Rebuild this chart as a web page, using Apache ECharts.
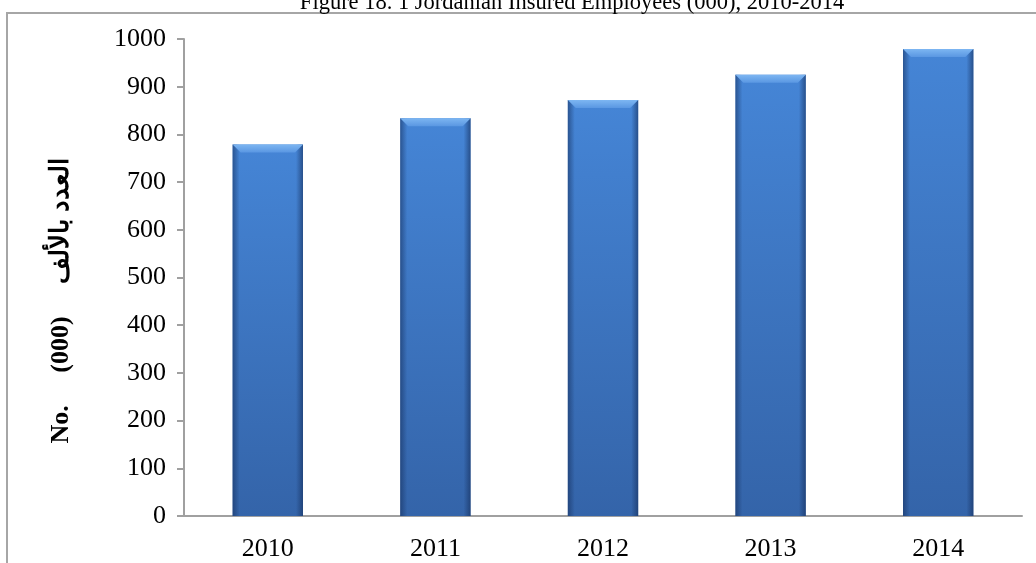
<!DOCTYPE html>
<html>
<head>
<meta charset="utf-8">
<script src="https://cdn.jsdelivr.net/npm/echarts@6/dist/echarts.min.js"></script>
<style>html,body{margin:0;padding:0;background:#fff}#c{width:1036px;height:563px}</style>
</head>
<body>
<div id="c"></div>
<script>
const categories = ['2010', '2011', '2012', '2013', '2014'];
const values = [779, 834, 872, 925, 979];
const yTicks = { min: 0, max: 1000, interval: 100 };
const titleText = 'Figure 18. 1 Jordanian Insured Employees (000), 2010-2014';
const yName = 'No.     (000)     العدد بالألف';

const chart = echarts.init(document.getElementById('c'), null, { renderer: 'canvas' });
const serif = '"Liberation Serif", "DejaVu Serif", serif';

function renderBar(params, api) {
  const idx = api.value(0);
  const v = api.value(1);
  const top = api.coord([idx, v]);
  const base = api.coord([idx, 0]);
  const band = api.size([1, 0])[0];
  const w = band * 0.42;
  const x = top[0] - w / 2;
  const y = top[1];
  const h = base[1] - top[1];
  const bev = 8;
  const edge = 7;
  return {
    type: 'group',
    children: [
      { type: 'rect', shape: { x: x, y: y, width: w, height: h },
        style: { fill: new echarts.graphic.LinearGradient(0, 0, 0, 1, [
          { offset: 0, color: '#4585d6' }, { offset: 1, color: '#3464a9' }]) } },
      { type: 'rect', shape: { x: x, y: y, width: edge, height: h },
        style: { fill: new echarts.graphic.LinearGradient(0, 0, 1, 0, [
          { offset: 0, color: 'rgba(20,45,90,0.55)' }, { offset: 1, color: 'rgba(20,45,90,0)' }]) } },
      { type: 'rect', shape: { x: x + w - edge, y: y, width: edge, height: h },
        style: { fill: new echarts.graphic.LinearGradient(0, 0, 1, 0, [
          { offset: 0, color: 'rgba(20,45,90,0)' }, { offset: 1, color: 'rgba(20,45,90,0.6)' }]) } },
      { type: 'polygon', shape: { points: [[x, y], [x + w, y], [x + w - bev, y + bev], [x + bev, y + bev]] },
        style: { fill: new echarts.graphic.LinearGradient(0, 0, 0, 1, [
          { offset: 0, color: '#7db6f2' }, { offset: 1, color: '#5a97e2' }]) } }
    ]
  };
}

chart.setOption({
  animation: false,
  grid: { left: 184, right: 14, top: 39, bottom: 47, containLabel: false },
  graphic: [
    { type: 'rect', shape: { x: 7, y: 13, width: 1100, height: 700 },
      style: { fill: 'none', stroke: '#a6a6a6', lineWidth: 2 }, z: -1 },
    { type: 'text', x: 572, y: 3,
      style: { text: titleText, font: '22.5px ' + serif, fill: '#000', textAlign: 'center', textVerticalAlign: 'middle' } },
    { type: 'text', x: 61, y: 301, rotation: Math.PI / 2,
      style: { text: yName, font: 'bold 26px ' + serif, fill: '#000', textAlign: 'center', textVerticalAlign: 'middle' } }
  ],
  xAxis: {
    type: 'category', data: categories,
    axisLine: { lineStyle: { color: '#a0a0a0', width: 2 } },
    axisTick: { show: false },
    axisLabel: { color: '#000', fontFamily: serif, fontSize: 26, margin: 20 }
  },
  yAxis: {
    type: 'value', min: yTicks.min, max: yTicks.max, interval: yTicks.interval,
    axisLine: { show: true, lineStyle: { color: '#a0a0a0', width: 2 } },
    axisTick: { show: true, length: 7, lineStyle: { color: '#a0a0a0', width: 2 } },
    splitLine: { show: false },
    axisLabel: { color: '#000', fontFamily: serif, fontSize: 26, margin: 18, formatter: (v) => String(v) }
  },
  series: [{
    type: 'custom',
    renderItem: renderBar,
    encode: { x: 0, y: 1 },
    data: values.map((v, i) => [i, v])
  }]
});
</script>
</body>
</html>
